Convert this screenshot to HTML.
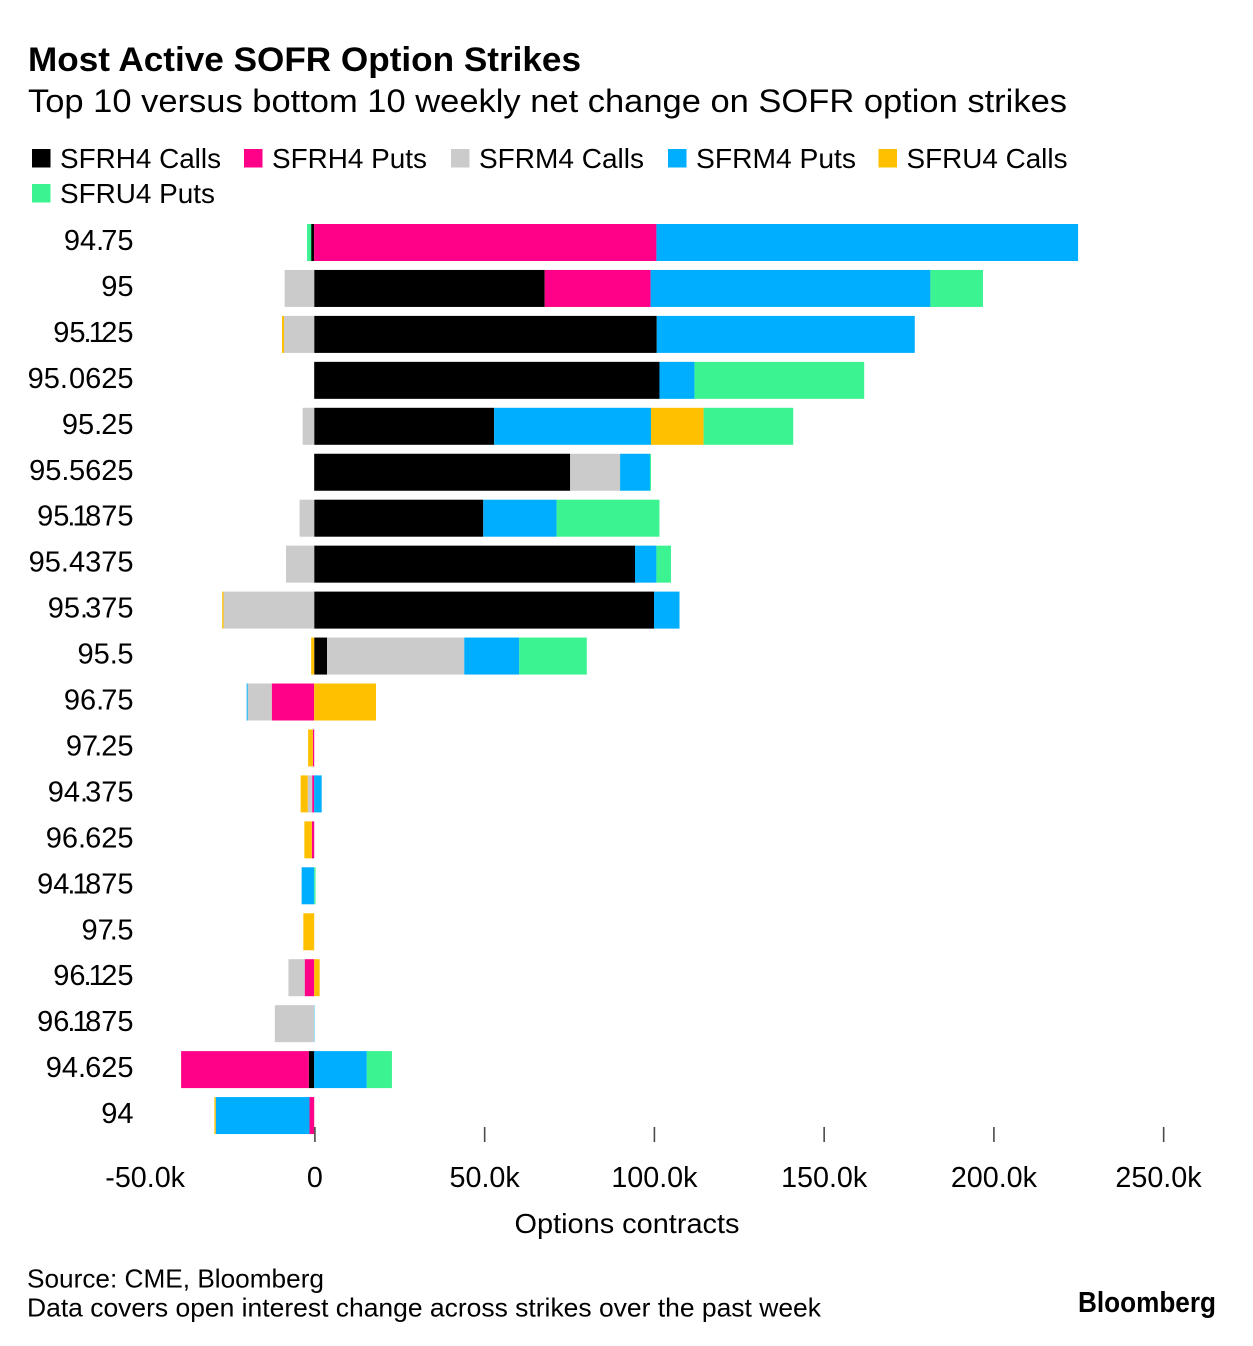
<!DOCTYPE html>
<html lang="en">
<head>
<meta charset="utf-8">
<title>Most Active SOFR Option Strikes</title>
<style>
html,body{margin:0;padding:0;background:#fff;}
body{width:1253px;height:1346px;overflow:hidden;}
svg{display:block;}
text{font-family:"Liberation Sans",sans-serif;fill:#000;}
</style>
</head>
<body>
<svg id="chart" xmlns="http://www.w3.org/2000/svg" width="1253" height="1346" viewBox="0 0 1253 1346">
  <text x="28" y="71" font-size="34" font-weight="700" textLength="553" lengthAdjust="spacingAndGlyphs">Most Active SOFR Option Strikes</text>
  <text x="28" y="112" font-size="32" textLength="1039" lengthAdjust="spacingAndGlyphs">Top 10 versus bottom 10 weekly net change on SOFR option strikes</text>
  <g id="legend"></g>
  <g id="bars"></g>
  <g id="y-axis"></g>
  <g id="x-axis"></g>
  <text x="627" y="1233" font-size="27.5" text-anchor="middle" textLength="225" lengthAdjust="spacingAndGlyphs">Options contracts</text>
  <text x="27" y="1287.5" font-size="26" textLength="297" lengthAdjust="spacingAndGlyphs">Source: CME, Bloomberg</text>
  <text x="27" y="1316.5" font-size="26" textLength="794" lengthAdjust="spacingAndGlyphs">Data covers open interest change across strikes over the past week</text>
  <text x="1078" y="1312" font-size="29" font-weight="700" textLength="138" lengthAdjust="spacingAndGlyphs">Bloomberg</text>
</svg>
<script>
var strikes = ["94.75","95","95.125","95.0625","95.25","95.5625","95.1875","95.4375","95.375","95.5","96.75","97.25","94.375","96.625","94.1875","97.5","96.125","96.1875","94.625","94"];
var seriesNames = ["SFRH4 Calls","SFRH4 Puts","SFRM4 Calls","SFRM4 Puts","SFRU4 Calls","SFRU4 Puts"];
var seriesColors = ["#000000","#ff0088","#cbcbcb","#00aeff","#ffc000","#3cf391"];
var sfrh4Calls = [-0.9,67.9,100.9,101.7,53,75.4,49.8,94.5,100.1,3.8,0,0,0,0,0,0,0,0,-1.6,0];
var sfrh4Puts  = [100.8,31.2,0,0,0,0,0,0,0,0,-12.5,-0.4,-0.6,-0.7,0,0,-2.8,0,-37.6,-1.4];
var sfrm4Calls = [0,-8.7,-8.9,0,-3.4,14.7,-4.3,-8.3,-26.7,40.4,-7.1,0,-1.3,0,0,0,-4.8,-11.6,0,0];
var sfrm4Puts  = [124.2,82.4,76,10.3,46.2,8.8,21.6,6.3,7.5,16.2,-0.3,0,2.2,0,-3.7,0,0,0.1,15.5,-27.6];
var sfru4Calls = [0,0,-0.6,0,15.5,0,0,0,-0.4,-0.9,18.2,-1.4,-2.1,-2.2,0,-3.2,1.6,0,0,-0.4];
var sfru4Puts  = [-1.2,15.5,0,50,26.4,0.3,30.3,4.3,0,19.9,0,0,0,0,0.4,0,0,0,7.4,0];
var tickValues = [-50,0,50,100,150,200,250];
var tickLabels = ["-50.0k","0","50.0k","100.0k","150.0k","200.0k","250.0k"];

var seriesValues = [sfrh4Calls,sfrh4Puts,sfrm4Calls,sfrm4Puts,sfru4Calls,sfru4Puts];
var NS = "http://www.w3.org/2000/svg";
function xScale(v){ return 314.2 + v * 3.395; }
function yScale(i){ return 224 + i * 45.95; }
var bandHeight = 37;
function make(tag, parent, attrs){
  var el = document.createElementNS(NS, tag);
  for (var k in attrs) el.setAttribute(k, attrs[k]);
  parent.appendChild(el);
  return el;
}

/* legend */
var legendG = document.getElementById("legend");
var legendRow = [0,0,0,0,0,1];
var legendStart = [32,244,451,668,878.5,32];
var legendWidth = [161,155,165,160,161,155];
seriesNames.forEach(function(name, i){
  var y = 149 + legendRow[i] * 35;
  var sw = make("rect", legendG, {x: legendStart[i], y: y, width: 18.5, height: 18.5, fill: seriesColors[i]});
  
  
  var t = make("text", legendG, {x: legendStart[i] + 28, y: y + 19, "font-size": 28, textLength: legendWidth[i], lengthAdjust: "spacingAndGlyphs"});
  t.textContent = name;
  
  
});

/* stacked bars: positives stack right of zero, negatives left of zero */
var barsG = document.getElementById("bars");
strikes.forEach(function(strike, r){
  var pos = 0, neg = 0;
  seriesValues.forEach(function(vals, s){
    var v = vals[r];
    if (!v) return;
    var a, b;
    if (v > 0) { a = pos; pos += v; b = pos; }
    else { b = neg; neg += v; a = neg; }
    var bar = make("rect", barsG, {x: xScale(a), y: yScale(r), width: xScale(b) - xScale(a), height: bandHeight, fill: seriesColors[s]});
    
    
  });
});

/* y axis labels: pair kerning to mimic the original typeface's tight 1 and 7 */
var kernPairs = {"7.":-4, ".1":-3, ".3":-3, ".7":-3, ".0":1, ".5":-0.5, ".2":-1, ".6":-1, "12":-3.5, "18":-3.5};
var yG = document.getElementById("y-axis");
strikes.forEach(function(strike, r){
  var t = make("text", yG, {x: 133.5, y: yScale(r) + 26, "font-size": 29, "text-anchor": "end"});
  
  
  for (var c = 0; c < strike.length; c++) {
    var span = document.createElementNS(NS, "tspan");
    var kern = c > 0 ? (kernPairs[strike.charAt(c - 1) + strike.charAt(c)] || 0) : 0;
    if (strike.charAt(c) === "." && strike.charAt(c + 1) === "1") kern -= 2;
    if (kern) span.setAttribute("dx", kern);
    span.textContent = strike.charAt(c);
    t.appendChild(span);
  }
});

/* x axis */
var xG = document.getElementById("x-axis");
tickValues.forEach(function(v, i){
  var x = xScale(v) + 0.7;
  if (v >= 0) {
    var tk = make("rect", xG, {x: x - 0.8, y: 1127, width: 1.6, height: 15, fill: "#4a4a4a"});
    
    
  }
  var cx = Math.min(x, 1158.5);
  var t = make("text", xG, {x: cx, y: 1187, "font-size": 28.7, "text-anchor": "middle"});
  t.textContent = tickLabels[i];
  
  
});
</script>
</body>
</html>
